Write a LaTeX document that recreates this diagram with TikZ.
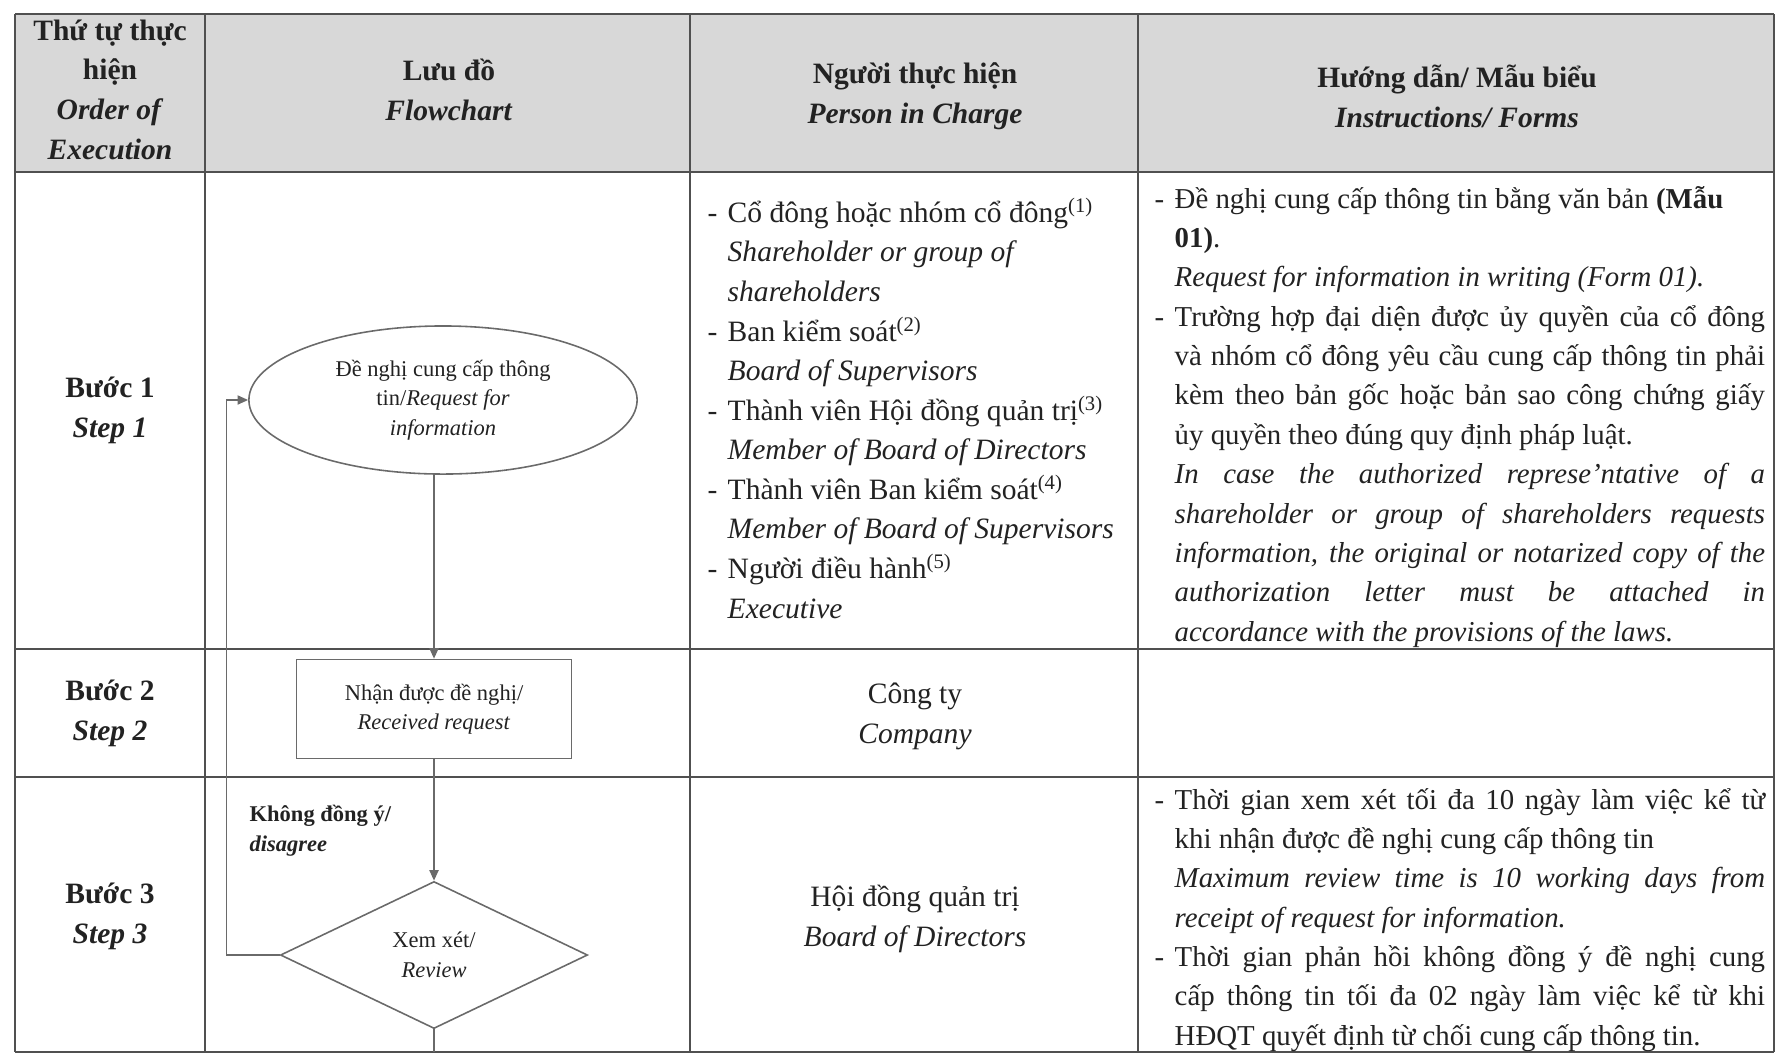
\documentclass[tikz,border=0pt]{standalone}
\usepackage{fontspec}
\setmainfont{Liberation Serif}
\usetikzlibrary{shapes.geometric,arrows.meta,positioning}

\definecolor{tabgray}{HTML}{505050}
\definecolor{headfill}{HTML}{D8D8D8}
\definecolor{inkgray}{HTML}{222222}
\definecolor{flowgray}{HTML}{6A6A6A}

\newcommand{\bodyfont}{\fontsize{8.4}{11.25}\selectfont}
\newcommand{\formfont}{\fontsize{8.2}{11.2}\selectfont}
\newcommand{\flowfont}{\fontsize{6.4}{8.4}\selectfont}
\newcommand{\dashmark}{\makebox[0.2cm][l]{-}}
\newcommand{\dashgap}{\hspace*{0.2cm}}

\tikzset{
  tabline/.style={draw=tabgray, line width=0.6pt},
  headtext/.style={font=\bodyfont\bfseries, text=inkgray, align=center, anchor=base, inner sep=0pt},
  celltext/.style={font=\bodyfont, text=inkgray, align=center, anchor=base, inner sep=0pt},
  listtext/.style={font=\bodyfont, text=inkgray, align=left, anchor=base west, inner sep=0pt},
  justtext/.style={font=\formfont, text=inkgray, text width=6.1cm, align=justify, anchor=base west, inner sep=0pt},
  flowbox/.style={draw=flowgray, line width=0.45pt, font=\flowfont, text=inkgray, align=center, inner sep=0pt},
  flowline/.style={draw=flowgray, line width=0.45pt},
  flowarrow/.style={flowline, -{Triangle[length=3pt,width=2.6pt]}},
}

\begin{document}
\begin{tikzpicture}[x=0.01cm, y=-0.01cm]
\useasboundingbox (0,0) rectangle (1777,1054);

% table frame
\fill[headfill] (15,14) rectangle (1774,172);
\foreach \x in {15,205,690,1138,1774}
  \draw[tabline] (\x,14) -- (\x,1052);
\foreach \y in {14,172,649,777,1052}
  \draw[tabline] (15,\y) -- (1774,\y);

% header (multi-line nodes sit on their last baseline)
\node[headtext] (hOrder) at (110,159) {Thứ tự thực\\hiện\\\textit{Order of}\\\textit{Execution}};
\node[headtext] (hFlow) at (449,120) {Lưu đồ\\\textit{Flowchart}};
\node[headtext] (hPerson) at (915,123) {Người thực hiện\\\textit{Person in Charge}};
\node[headtext] (hForms) at (1457,127) {Hướng dẫn/ Mẫu biểu\\\textit{Instructions/ Forms}};

% steps
\foreach \n/\y in {1/437, 2/740, 3/943}
  \node[headtext] (step\n) at (110,\y) {Bước \n\\\textit{Step \n}};

% flowchart
\node[flowbox, ellipse, minimum width=3.88cm, minimum height=1.48cm] (request) at (443,400)
  {Đề nghị cung cấp thông\\tin/\textit{Request for}\\\textit{information}};
\node[flowbox, rectangle, minimum width=2.75cm, minimum height=0.99cm] (received) at (434,709)
  {Nhận được đề nghị/\\\textit{Received request}};
\node[flowbox, diamond, minimum width=3.07cm, minimum height=1.47cm] (review) at (434,955)
  {Xem xét/\\\textit{Review}};
\node[font=\flowfont\bfseries, text=inkgray, align=left, anchor=base west, inner sep=0pt] (disagree) at (249,851)
  {Không đồng ý/\\\textit{disagree}};
\coordinate (exit) at (434,1052);

\draw[flowarrow] (request.south -| received.north) -- (received.north);
\draw[flowarrow] (received) -- (review);
\draw[flowline] (review) -- (exit);
\draw[flowarrow] (review.west) -- ++(-53,0) |- (request.west);

% person in charge
\node[listtext] (who1) at (707,618) {\dashmark Cổ đông hoặc nhóm cổ đông\textsuperscript{(1)}\\
  \dashgap\textit{Shareholder or group of}\\
  \dashgap\textit{shareholders}\\
  \dashmark Ban kiểm soát\textsuperscript{(2)}\\
  \dashgap\textit{Board of Supervisors}\\
  \dashmark Thành viên Hội đồng quản trị\textsuperscript{(3)}\\
  \dashgap\textit{Member of Board of Directors}\\
  \dashmark Thành viên Ban kiểm soát\textsuperscript{(4)}\\
  \dashgap\textit{Member of Board of Supervisors}\\
  \dashmark Người điều hành\textsuperscript{(5)}\\
  \dashgap\textit{Executive}};
\node[celltext] (who2) at (915,743) {Công ty\\\textit{Company}};
\node[celltext] (who3) at (915,946) {Hội đồng quản trị\\\textit{Board of Directors}};

% instructions
\node[justtext] (form1) at (1154,208) {\tolerance=10000\hbadness=10000\hyphenpenalty=10000
  \dashmark\hangindent=0.2cm\hangafter=1 Đề nghị cung cấp thông tin bằng văn bản \textbf{(Mẫu}\\
  \textbf{01)}.\\
  \textit{Request for information in writing (Form 01).}\par
  \dashmark\hangindent=0.2cm\hangafter=1 Trường hợp đại diện được ủy quyền của cổ đông\linebreak
  và nhóm cổ đông yêu cầu cung cấp thông tin phải\linebreak
  kèm theo bản gốc hoặc bản sao công chứng giấy\linebreak
  ủy quyền theo đúng quy định pháp luật.\\
  \textit{In case the authorized represe'ntative of a\linebreak
  shareholder or group of shareholders requests\linebreak
  information, the original or notarized copy of the\linebreak
  authorization letter must be attached in\linebreak
  accordance with the provisions of the laws.}\par};
\node[justtext] (form3) at (1154,809) {\tolerance=10000\hbadness=10000\hyphenpenalty=10000
  \dashmark\hangindent=0.2cm\hangafter=1 Thời gian xem xét tối đa 10 ngày làm việc kể từ\linebreak
  khi nhận được đề nghị cung cấp thông tin\\
  \textit{Maximum review time is 10 working days from\linebreak
  receipt of request for information.}\par
  \dashmark\hangindent=0.2cm\hangafter=1 Thời gian phản hồi không đồng ý đề nghị cung\linebreak
  cấp thông tin tối đa 02 ngày làm việc kể từ khi\linebreak
  HĐQT quyết định từ chối cung cấp thông tin.\par};
\end{tikzpicture}
\end{document}
